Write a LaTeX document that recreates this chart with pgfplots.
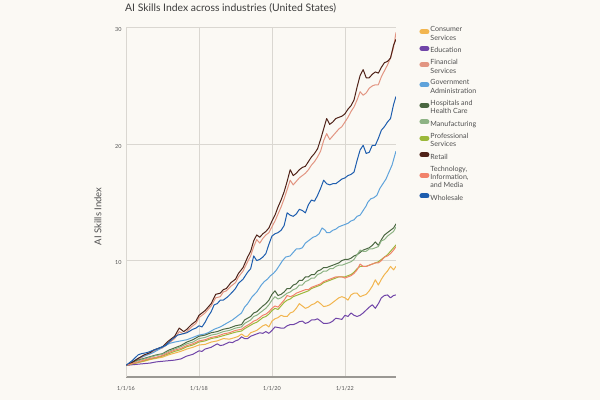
\documentclass[border=0pt]{standalone}
\usepackage{fontspec}
\setmainfont{Lato}
\usepackage{pgfplots}
\pgfplotsset{compat=1.18}

\definecolor{bgc}{HTML}{FBF9F4}
\definecolor{gridc}{HTML}{DAD7D1}
\definecolor{axisc}{HTML}{9A9893}
\definecolor{titlec}{HTML}{3C3C3C}
\definecolor{labc}{HTML}{505050}
\definecolor{consumer}{HTML}{F2B54F}
\definecolor{education}{HTML}{7045A8}
\definecolor{financial}{HTML}{E29582}
\definecolor{government}{HTML}{5FA3DB}
\definecolor{hospitals}{HTML}{4A6741}
\definecolor{manufacturing}{HTML}{8DB384}
\definecolor{professional}{HTML}{9BB83A}
\definecolor{retail}{HTML}{4F2218}
\definecolor{tech}{HTML}{F2826A}
\definecolor{wholesale}{HTML}{1D5DAE}

\begin{document}
\begin{tikzpicture}[x=1pt,y=1pt]
\fill[bgc] (0,0) rectangle (600,400);
\node[anchor=west, inner sep=0pt, font=\fontsize{10.4}{12.5}\selectfont, text=titlec] at (125,392) {AI Skills Index across industries (United States)};
\begin{axis}[
  at={(126pt,23pt)}, anchor=south west,
  scale only axis, width=270pt, height=349.3pt,
  xmin=0, xmax=88.8, ymin=0, ymax=30,
  xtick={0,24,48,72}, xticklabels={1/1/16,1/1/18,1/1/20,1/1/22},
  ytick={10,20,30},
  grid=major, grid style={gridc, line width=0.8pt},
  axis x line*=bottom, axis y line*=left,
  axis line style={-},
  x axis line style={axisc, line width=1.1pt},
  y axis line style={gridc, line width=0.8pt},
  tick style={draw=none},
  /pgf/number format/assume math mode=true,
  ticklabel style={font=\fontsize{5.5}{6}\selectfont, text=labc},
  xticklabel style={yshift=-6pt},
  yticklabel style={yshift=-2pt, xshift=-1pt},
  ylabel={AI Skills Index},
  every axis y label/.style={at={(axis description cs:-0.104,0.46)}, rotate=90, anchor=center, font=\fontsize{9.5}{11}\selectfont, text=labc},
  legend style={at={(1.075,1.012)}, anchor=north west, draw=none, fill=none,
    font=\fontsize{7.1}{8.3}\selectfont, text=labc, row sep=3.3pt,
    nodes={align=left, inner sep=1pt}},
  legend cell align=left,
  legend image code/.code={\draw[line width=5pt, line cap=round] (2.5pt,2.4pt) -- (7.5pt,2.4pt);},
  every axis plot/.append style={line width=1pt, line join=round},
]
\addplot[consumer] coordinates {(0,1.0)(2,1.1)(4,1.25)(6,1.35)(8,1.5)(10,1.6)(12,1.7)(14,1.9)(16,2.05)(18,2.2)(20,2.4)(22,2.55)(24,2.75)(26,2.8)(28,3.0)(30,3.1)(32,3.3)(34,3.25)(36,3.4)(37,3.5)(38,3.7)(39,3.5)(40,3.5)(41,3.8)(42,3.9)(43,4.0)(44,4.2)(45,4.4)(46,4.5)(47,4.3)(48,4.8)(49,5.0)(50,5.1)(51,5.3)(52,5.2)(53,5.2)(54,5.5)(55,5.6)(56,5.9)(57,6.3)(58,6.1)(59,5.9)(60,6.0)(61,6.2)(62,6.3)(63,6.5)(64,6.3)(65,6.05)(66,6.1)(67,6.2)(68,6.4)(69,6.6)(70,6.8)(71,6.9)(72,6.8)(73,6.6)(74,7.05)(75,7.2)(76,7.2)(77,6.9)(78,7.0)(79,7.1)(80,7.4)(81,7.8)(82,8.35)(83,7.9)(84,8.4)(85,8.8)(86,9.1)(87,9.5)(88,9.2)(88.8,9.5)};
\addlegendentry{Consumer\\Services}
\addplot[education] coordinates {(0,1.0)(2,1.05)(4,1.1)(6,1.15)(8,1.2)(10,1.3)(12,1.35)(14,1.4)(16,1.45)(18,1.55)(20,1.8)(22,1.95)(23,2.1)(24,2.25)(25,2.2)(26,2.4)(28,2.55)(29,2.7)(30,2.85)(31,2.7)(32,2.75)(34,3.0)(35,2.95)(36,3.1)(37,3.2)(38,3.45)(39,3.3)(40,3.3)(41,3.5)(42,3.6)(43,3.7)(44,3.8)(45,3.75)(46,3.9)(47,3.75)(48,4.0)(49,4.3)(50,4.25)(51,4.2)(52,4.2)(53,4.4)(54,4.5)(55,4.5)(56,4.6)(57,4.75)(58,4.8)(59,4.6)(60,4.7)(61,4.9)(62,4.9)(63,5.0)(64,4.8)(65,4.6)(66,4.6)(67,4.65)(68,4.8)(69,5.05)(70,5.0)(71,4.95)(72,5.3)(73,5.2)(74,5.5)(75,5.3)(76,5.2)(77,5.3)(78,5.5)(79,5.75)(80,6.0)(81,6.2)(82,5.9)(83,6.3)(84,6.8)(85,7.0)(86,7.05)(87,6.8)(88,7.0)(88.8,7.05)};
\addlegendentry{Education}
\addplot[financial] coordinates {(0,1.0)(2,1.2)(4,1.5)(6,1.8)(8,2.0)(9,2.2)(11,2.4)(12,2.5)(14,2.9)(16,3.3)(17.5,3.9)(19,3.7)(20,3.9)(21.5,4.3)(23,4.6)(24,5.1)(26,5.5)(27,5.8)(28,6.1)(29.5,6.8)(31,6.9)(32,7.3)(33,7.4)(34.5,7.8)(36,8.1)(37,8.6)(38.5,9.1)(40,9.9)(41,10.4)(42,11.2)(43,11.8)(44,11.5)(45,11.9)(46,12.2)(47,12.4)(48,12.9)(49,13.4)(50,14.0)(51,14.6)(52,15.3)(53,16.1)(54,16.9)(55,16.5)(56,16.8)(57,17.1)(58,17.3)(59,17.5)(60,17.8)(61,18.2)(62,18.5)(63,18.9)(64,19.4)(65,20.3)(66,20.9)(67,20.4)(68,20.7)(69,21.0)(70,21.3)(71,21.5)(72,21.9)(73,22.3)(74,22.8)(75,23.2)(76,23.8)(77,24.5)(78,24.2)(79,24.4)(80,24.8)(81,25.0)(82,25.1)(83,25.1)(84,25.8)(85,26.3)(86,26.8)(87,27.4)(88,28.3)(88.8,29.6)};
\addlegendentry{Financial\\Services}
\addplot[government] coordinates {(0,1.0)(2,1.3)(4,1.6)(6,1.8)(9,2.1)(11,2.4)(13,2.7)(14.5,2.9)(16,3.0)(18,3.1)(20,3.2)(22,3.4)(24,3.6)(26,3.7)(27,3.8)(29,4.1)(31,4.3)(33,4.6)(35,4.9)(37,5.3)(38,5.5)(39,6.0)(40,6.3)(41.5,6.9)(43,7.3)(44.5,7.9)(45.5,8.2)(46.5,8.4)(47.5,8.7)(48.5,8.9)(49.5,9.2)(50.5,9.6)(51.5,10.0)(52.5,10.3)(54,10.4)(55,10.7)(56,11.0)(57,11.0)(58,11.1)(59,11.5)(60.5,11.8)(61.5,12.0)(62.5,12.1)(63.5,12.3)(64.5,12.8)(65.5,12.6)(66,12.4)(67,12.4)(68,12.6)(69,12.7)(70,12.9)(71,13.0)(72,13.1)(73,13.2)(74,13.4)(75,13.5)(76,13.8)(77,13.9)(78,14.3)(79,14.7)(79.5,15.0)(80.5,15.3)(81.5,15.4)(82.5,15.6)(83.5,16.2)(84.5,16.6)(85.5,17.0)(86.5,17.6)(87.5,18.2)(88.8,19.4)};
\addlegendentry{Government\\Administration}
\addplot[hospitals] coordinates {(0,1.0)(2,1.25)(4,1.45)(6,1.6)(8,1.75)(10,1.9)(12,2.0)(14,2.3)(16,2.5)(18,2.7)(20,3.0)(22,3.2)(24,3.5)(26,3.6)(28,3.8)(30,3.9)(32,4.1)(34,4.2)(36,4.4)(38,4.5)(39,4.9)(41,5.2)(42,5.5)(43,5.6)(45,6.1)(46,6.3)(47,6.6)(48,7.1)(49,7.4)(50,7.0)(51,7.1)(52,7.3)(53,7.6)(54,7.6)(55,7.9)(56,8.0)(57,8.3)(58,8.3)(59,8.6)(60,8.6)(61,8.8)(62,8.8)(63,9.1)(64,9.2)(65,9.4)(66,9.4)(67,9.5)(68,9.6)(69,9.7)(70,9.8)(71,10.0)(72,10.1)(73,10.1)(74,10.2)(75,10.4)(76,10.5)(77,10.7)(78,10.9)(79,11.0)(80,11.1)(81,11.3)(82,11.6)(83,11.3)(84,11.8)(85,12.2)(86,12.4)(87,12.6)(88,12.8)(88.8,13.15)};
\addlegendentry{Hospitals and\\Health Care}
\addplot[manufacturing] coordinates {(0,1.0)(2,1.2)(4,1.4)(6,1.55)(8,1.7)(10,1.85)(12,1.95)(14,2.2)(16,2.4)(18,2.6)(20,2.85)(22,3.0)(24,3.3)(26,3.4)(28,3.6)(30,3.7)(32,3.9)(34,4.0)(36,4.2)(38,4.3)(39,4.6)(41,4.9)(42,5.2)(43,5.3)(45,5.7)(46,5.9)(47,6.2)(48,6.6)(49,6.9)(50,6.7)(51,6.8)(52,7.0)(53,7.2)(54,7.3)(55,7.5)(56,7.6)(57,7.9)(58,7.9)(59,8.2)(60,8.3)(61,8.5)(62,8.5)(63,8.8)(64,8.9)(65,9.1)(66,9.1)(67,9.3)(68,9.3)(69,9.5)(70,9.6)(71,9.6)(72,9.7)(73,9.8)(74,9.9)(75,10.1)(76,10.5)(77,10.9)(78,10.8)(79,10.8)(80,11.0)(81,11.0)(82,11.1)(83,11.2)(84,11.7)(85,11.8)(86,12.1)(87,12.3)(88,12.5)(88.8,12.9)};
\addlegendentry{Manufacturing}
\addplot[professional] coordinates {(0,1.0)(2,1.12)(4,1.25)(6,1.4)(8,1.55)(10,1.65)(12,1.8)(14,2.0)(16,2.2)(18,2.35)(20,2.6)(22,2.75)(24,3.0)(26,3.1)(28,3.3)(30,3.4)(32,3.55)(34,3.7)(36,3.85)(38,3.95)(39,4.15)(41,4.45)(42,4.6)(43,4.7)(45,5.1)(46,5.2)(47,5.4)(48,5.7)(49,5.9)(50,5.8)(51,6.1)(52,6.4)(53,6.6)(54,6.7)(55,6.9)(56,7.0)(57,7.1)(58,7.2)(59,7.3)(60,7.4)(61,7.6)(62,7.7)(63,7.8)(64,7.9)(65,8.1)(66,8.2)(67,8.3)(68,8.4)(69,8.5)(70,8.6)(71,8.6)(72,8.6)(73,8.7)(74,8.8)(75,9.0)(76,9.3)(77,9.5)(78,9.5)(79,9.5)(80,9.6)(81,9.7)(82,9.8)(83,9.9)(84,10.1)(85,10.3)(86,10.5)(87,10.8)(88,11.1)(88.8,11.35)};
\addlegendentry{Professional\\Services}
\addplot[retail] coordinates {(0,1.0)(2,1.25)(4,1.6)(6,1.9)(8,2.1)(9,2.3)(11,2.5)(12,2.6)(14,3.1)(16,3.5)(17.5,4.2)(19,3.9)(20,4.1)(21.5,4.5)(23,4.8)(24,5.3)(26,5.7)(27,6.0)(28,6.3)(29.5,7.1)(31,7.2)(32,7.5)(33,7.6)(34.5,8.1)(36,8.4)(37,8.9)(38.5,9.4)(40,10.3)(41,10.8)(42,11.7)(43,12.2)(44,12.0)(45,12.3)(46,12.5)(47,12.8)(48,13.4)(49,13.9)(50,14.6)(51,15.2)(52,15.9)(53,16.8)(54,17.8)(55,17.3)(56,17.5)(57,17.8)(58,18.0)(59,18.1)(60,18.5)(61,18.9)(62,19.2)(63,19.6)(64,20.4)(65,21.3)(66,22.2)(67,21.7)(68,21.9)(69,22.2)(70,22.3)(71,22.4)(72,22.6)(73,23.0)(74,23.3)(75,23.8)(76,24.9)(77,25.9)(78,26.4)(79,25.7)(80,25.7)(81,26.0)(82,26.2)(83,26.1)(84,26.6)(85,27.0)(86,27.1)(87,27.4)(88,28.5)(88.8,29.0)};
\addlegendentry{Retail}
\addplot[tech] coordinates {(0,1.0)(2,1.15)(4,1.3)(6,1.45)(8,1.6)(10,1.7)(12,1.85)(14,2.1)(16,2.3)(18,2.45)(20,2.7)(22,2.85)(24,3.1)(26,3.2)(28,3.4)(30,3.5)(32,3.7)(34,3.8)(36,4.0)(38,4.1)(39,4.3)(41,4.6)(42,4.8)(43,4.9)(45,5.3)(46,5.4)(47,5.6)(48,5.9)(49,6.1)(50,6.0)(51,6.3)(52,6.6)(53,7.0)(54,6.9)(55,7.0)(56,7.2)(57,7.3)(58,7.4)(59,7.5)(60,7.5)(61,7.7)(62,7.8)(63,7.9)(64,8.0)(65,8.2)(66,8.3)(67,8.4)(68,8.5)(69,8.6)(70,8.6)(71,8.6)(72,8.5)(73,8.6)(74,8.7)(75,8.9)(76,9.2)(77,9.7)(78,9.5)(79,9.5)(80,9.6)(81,9.7)(82,9.8)(83,9.8)(84,10.0)(85,10.3)(86,10.4)(87,10.6)(88,10.9)(88.8,11.2)};
\addlegendentry{Technology,\\Information,\\and Media}
\addplot[wholesale] coordinates {(0,1.0)(2,1.4)(4,1.9)(5,2.0)(7,2.1)(9,2.3)(11,2.5)(13,2.7)(15,3.2)(17,3.6)(18.5,3.7)(20,3.8)(22,4.1)(23,4.2)(24,4.4)(25,4.3)(26,4.7)(27,5.2)(28,5.6)(29,6.2)(30,6.3)(31,6.6)(32,6.6)(33.5,6.9)(35,7.3)(36,7.6)(37,8.05)(38.5,8.4)(40,9.0)(41,9.3)(42,10.4)(43,10.0)(44,10.1)(45,10.3)(46,10.6)(47,11.4)(48,12.1)(49,12.3)(50,12.4)(51,12.6)(52,13.0)(53,14.1)(54,13.9)(55,13.8)(56,14.0)(57,14.4)(58,14.3)(59,14.1)(60,14.8)(61,15.2)(62,15.1)(63,15.6)(64,16.2)(65,16.9)(66,16.6)(67,16.5)(68,16.6)(69,16.6)(70,16.8)(71,17.0)(72,17.1)(73,17.3)(74,17.4)(75,17.6)(76,18.6)(77,19.5)(78,19.9)(79,19.2)(80,19.3)(81,19.9)(82,19.9)(83,20.5)(84,21.2)(85,21.5)(86,21.9)(87,22.2)(88,23.4)(88.8,24.1)};
\addlegendentry{Wholesale}
\end{axis}
\end{tikzpicture}
\end{document}
